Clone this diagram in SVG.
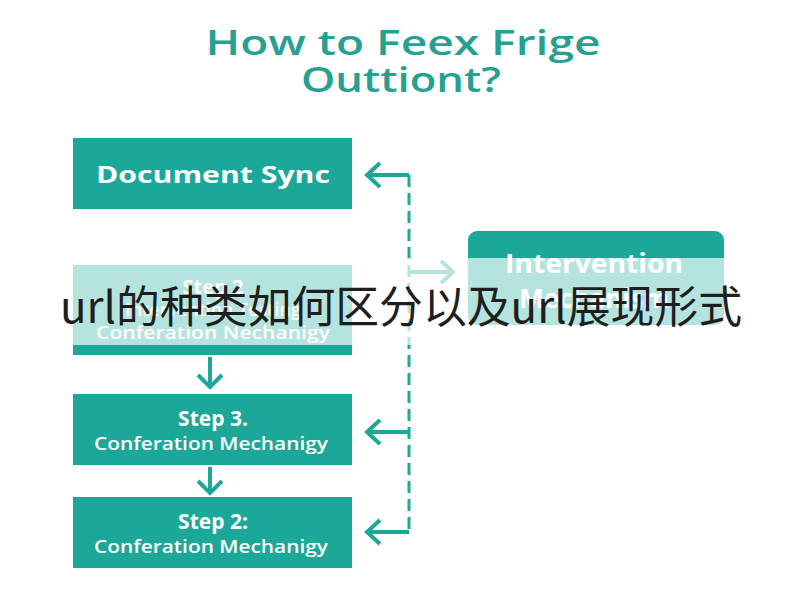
<svg xmlns="http://www.w3.org/2000/svg" width="800" height="600" viewBox="0 0 800 600">
<style>
.box{fill:#1ba898}
.t{fill:#ffffff;font-family:"Open Sans","Liberation Sans",sans-serif;text-anchor:middle;font-weight:700}
.s{fill:#ffffff;font-family:"Open Sans","Liberation Sans",sans-serif;text-anchor:middle;font-weight:600;font-size:18px}
.title{fill:#26a091;font-family:"Open Sans","Liberation Sans",sans-serif;font-weight:600;font-size:35px;text-anchor:middle}
.sol{fill:none;stroke:#1ba898;stroke-width:4;stroke-linecap:butt;stroke-linejoin:miter}
.dash{fill:none;stroke:#1ba898;stroke-width:3;stroke-dasharray:12 6}
</style>
<rect width="800" height="600" fill="#ffffff"/>
<g id="title">
<text class="title" x="403" y="55" textLength="395" lengthAdjust="spacingAndGlyphs">How to Feex Frige</text>
<text class="title" x="401" y="92" textLength="200" lengthAdjust="spacingAndGlyphs">Outtiont?</text>
</g>
<g id="connectors">
<path class="dash" d="M409 175 V532"/>
<path class="sol" d="M409 175 H367 M380 163 L367 175 L380 187"/>
<path class="sol" d="M409 432 H367 M380 420 L367 432 L380 444"/>
<path class="sol" d="M409 532 H367 M380 520 L367 532 L380 544"/>
<path class="sol" d="M409 272 H453 M441 261 L453 272 L441 283"/>
<path class="sol" d="M210 357 V384 M198 375 L210 387 L222 375"/>
<path class="sol" d="M210 467 V490 M198 481 L210 493 L222 481"/>
</g>
<g id="doc-sync">
<rect class="box" x="73" y="138" width="279" height="71"/>
<text class="t" x="213" y="183" font-size="24" textLength="234" lengthAdjust="spacingAndGlyphs">Document Sync</text>
</g>
<g id="step2a">
<rect class="box" x="73" y="265" width="279" height="90"/>
<text class="t" x="213" y="294" font-size="20">Step 2</text>
<text class="s" x="213" y="316">Intervention Testing</text>
<text class="s" x="213" y="339" textLength="234" lengthAdjust="spacingAndGlyphs">Conferation Nechanigy</text>
</g>
<g id="step3">
<rect class="box" x="73" y="394" width="279" height="71"/>
<text class="t" x="213" y="426" font-size="21">Step 3.</text>
<text class="s" x="211" y="450" textLength="234" lengthAdjust="spacingAndGlyphs">Conferation Mechanigy</text>
</g>
<g id="step2b">
<rect class="box" x="73" y="497" width="279" height="71"/>
<text class="t" x="213" y="529" font-size="21">Step 2:</text>
<text class="s" x="211" y="553" textLength="234" lengthAdjust="spacingAndGlyphs">Conferation Mechanigy</text>
</g>
<g id="intervention">
<rect class="box" x="468" y="231" width="256" height="94" rx="9"/>
<text class="t" x="594" y="273" font-size="26" textLength="178" lengthAdjust="spacingAndGlyphs">Intervention</text>
<text class="t" x="594" y="308" font-size="26">Mechanism</text>
</g>
<g id="overlay">
<rect x="0" y="258" width="800" height="87" fill="#ffffff" fill-opacity="0.68"/>
<text x="401" y="323" font-family="'Noto Sans CJK SC','Noto Sans',sans-serif" font-size="44" fill="#1e1e1e" text-anchor="middle" textLength="682" lengthAdjust="spacingAndGlyphs">url的种类如何区分以及url展现形式</text>
</g>
</svg>
